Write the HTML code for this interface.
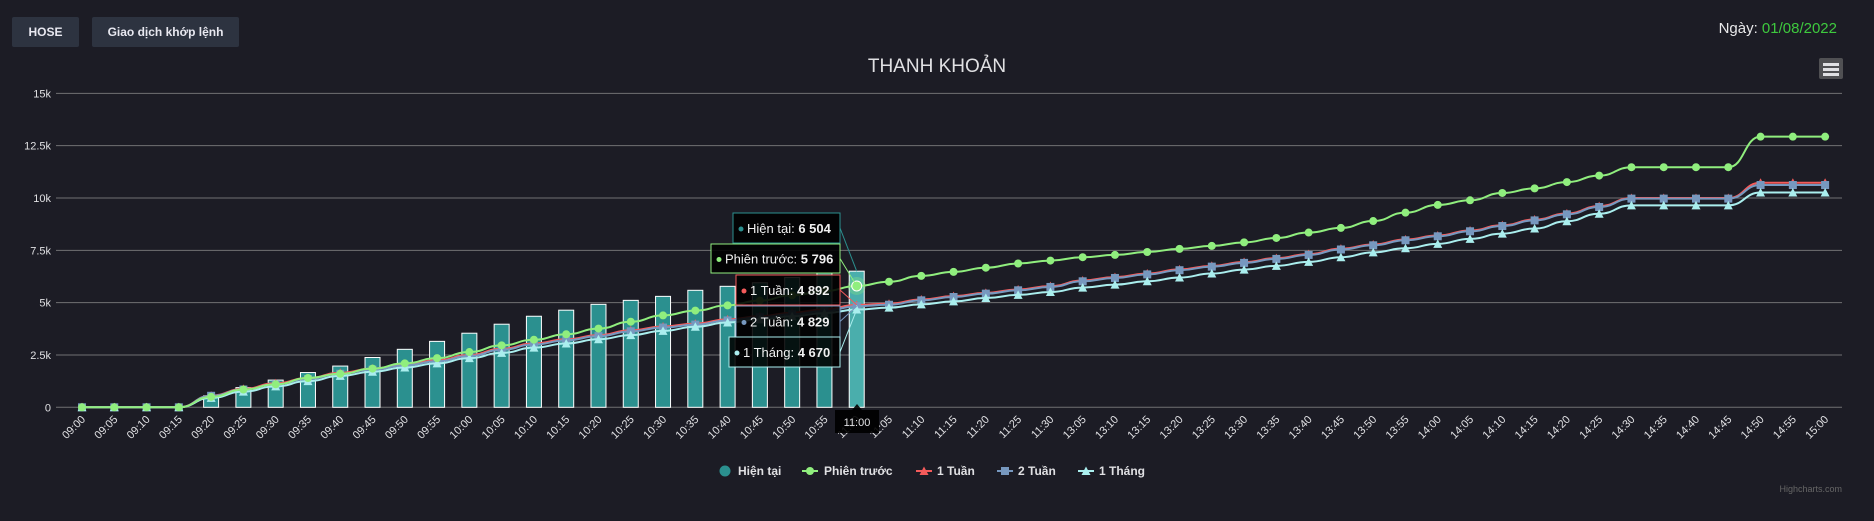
<!DOCTYPE html>
<html><head><meta charset="utf-8"><style>
body{margin:0;width:1874px;height:521px;background:#1c1c25;overflow:hidden;font-family:"Liberation Sans","Noto Sans CJK SC",sans-serif;position:relative}
.btn{position:absolute;top:17px;height:30px;background:#2d3340;border-radius:2px;color:#e8e8f0;font-weight:bold;font-size:12px;line-height:30px;text-align:center}
#date{position:absolute;right:37px;top:20px;font-size:15px;color:#e8e8ea}
#date span{color:#3ec93e}
svg{position:absolute;left:0;top:0}
</style></head><body>
<div class="btn" style="left:12px;width:67px">HOSE</div>
<div class="btn" style="left:92px;width:147px">Giao dịch khớp lệnh</div>
<div id="date">Ngày: <span>01/08/2022</span></div>
<svg id="chart" width="1874" height="521"></svg>
<script>
const categories=["09:00","09:05","09:10","09:15","09:20","09:25","09:30","09:35","09:40","09:45","09:50","09:55","10:00","10:05","10:10","10:15","10:20","10:25","10:30","10:35","10:40","10:45","10:50","10:55","11:00","11:05","11:10","11:15","11:20","11:25","11:30","13:05","13:10","13:15","13:20","13:25","13:30","13:35","13:40","13:45","13:50","13:55","14:00","14:05","14:10","14:15","14:20","14:25","14:30","14:35","14:40","14:45","14:50","14:55","15:00"];
const hienTai=[0,0,0,0,550,940,1300,1660,1970,2380,2770,3150,3540,3970,4350,4640,4920,5110,5300,5590,5780,5950,6200,6420,6504];
const phienTruoc=[0,0,0,0,500,850,1100,1400,1600,1850,2100,2350,2640,2960,3230,3490,3760,4090,4390,4620,4870,5100,5350,5550,5796,6000,6280,6470,6670,6870,7010,7170,7280,7420,7570,7710,7880,8090,8350,8570,8900,9300,9670,9890,10240,10460,10760,11070,11470,11470,11470,11470,12930,12930,12930];
const tuan1=[0,0,0,0,560,880,1150,1400,1650,1850,2050,2250,2500,2800,3050,3250,3450,3680,3860,4000,4200,4350,4520,4680,4892,4950,5150,5310,5470,5630,5790,6060,6220,6390,6590,6760,6940,7130,7320,7580,7780,8020,8210,8450,8700,8970,9260,9610,10000,10000,10000,10000,10730,10730,10730];
const tuan2=[0,0,0,0,550,850,1100,1350,1600,1800,2000,2200,2450,2750,3000,3200,3400,3630,3810,3950,4150,4300,4450,4600,4829,4900,5110,5270,5430,5590,5750,6020,6180,6350,6550,6720,6900,7090,7280,7540,7740,7980,8170,8410,8660,8930,9220,9570,9970,9970,9970,9970,10620,10620,10620];
const thang1=[0,0,0,0,450,750,1000,1250,1500,1700,1900,2100,2350,2600,2850,3050,3250,3450,3650,3850,4050,4200,4350,4500,4670,4760,4920,5060,5220,5370,5510,5720,5860,6020,6200,6390,6580,6760,6950,7170,7400,7600,7810,8050,8300,8540,8890,9250,9650,9650,9650,9650,10260,10260,10260];
const yTicks=[0,2500,5000,7500,10000,12500,15000];
const yTickLabels=["0","2.5k","5k","7.5k","10k","12.5k","15k"];

const NS="http://www.w3.org/2000/svg";
const svg=document.getElementById('chart');
const X0=82,DX=32.28,Y0=407.3,KY=20.93/1000;
const xs=i=>X0+i*DX, ys=v=>Y0-v*KY;
function el(t,a,p){const e=document.createElementNS(NS,t);for(const k in a)e.setAttribute(k,a[k]);(p||svg).appendChild(e);return e;}
function txt(s,a,p){const e=el('text',a,p);e.textContent=s;return e;}

const title=txt("THANH KHOẢN",{x:937,y:72,'text-anchor':'middle','font-size':19,fill:'#e0e0e3'});



yTicks.forEach((v,i)=>{
  const g=el('line',{x1:56,x2:1842,y1:ys(v),y2:ys(v),stroke:'#707073','stroke-width':1});
  
  
  const t=txt(yTickLabels[i],{x:51,y:ys(v)+4,'text-anchor':'end','font-size':11,fill:'#e0e0e3'});
  
  
});

categories.forEach((c,i)=>{
  const x=xs(i);
  const t=txt(c,{x:x+4,y:420,'text-anchor':'end','font-size':11,fill:'#e0e0e3',transform:`rotate(-45 ${x+4} 420)`});
  
  
});

hienTai.forEach((v,i)=>{
  const h=v*KY;
  const r=el('rect',{x:xs(i)-7.5,y:Y0-h,width:15,height:h,fill:i==24?'#4aaeac':'#2b908f',stroke:'#ffffff','stroke-width':1});
  
  
});

function smooth(vals){
  let d="";const p=vals.map((v,i)=>[xs(i),ys(v)]);
  p.forEach((q,i)=>{
    if(i==0){d+=`M${q[0]},${q[1]}`;return;}
    const a=p[i-1],cx=(a[0]+q[0])/2;
    d+=` C${cx},${a[1]} ${cx},${q[1]} ${q[0]},${q[1]}`;
  });return d;
}
function series(vals,color,marker,name){
  const g=el('g',{});
  
  
  el('path',{d:smooth(vals),fill:'none',stroke:color,'stroke-width':2},g);
  vals.forEach((v,i)=>{
    const x=xs(i),y=ys(v);let m;
    if(marker=='circle')m=el('circle',{cx:x,cy:y,r:4,fill:color},g);
    else if(marker=='square')m=el('rect',{x:x-4,y:y-4,width:8,height:8,fill:color},g);
    else if(marker=='tri')m=el('path',{d:`M${x},${y-4.5}L${x+4.5},${y+4}L${x-4.5},${y+4}Z`,fill:color},g);
    else m=el('path',{d:`M${x},${y-4.5}L${x+4},${y+3}L${x-4},${y+3}Z`,fill:color},g);
    
    
  });
}
series(tuan1,'#f45b5b','tri2','series-1-tuan');
series(tuan2,'#7798bf','square','series-2-tuan');
series(thang1,'#aaeeee','tri','series-1-thang');
series(phienTruoc,'#90ee7e','circle','series-phien-truoc');
// hover halo
el('circle',{cx:xs(24),cy:ys(phienTruoc[24]),r:9,fill:'#90ee7e','fill-opacity':0.3});
el('circle',{cx:xs(24),cy:ys(phienTruoc[24]),r:5,fill:'#90ee7e',stroke:'#fff','stroke-width':1});

// tooltips
const tips=[
 {l:'Hiện tại',v:hienTai[24],c:'#2b908f',x:733,y:213,h:30,val:hienTai[24]},
 {l:'Phiên trước',v:phienTruoc[24],c:'#90ee7e',x:711,y:244,h:29,val:phienTruoc[24]},
 {l:'1 Tuần',v:tuan1[24],c:'#f45b5b',x:736,y:275,h:30,val:tuan1[24]},
 {l:'2 Tuần',v:tuan2[24],c:'#7798bf',x:736,y:306,h:31,val:tuan2[24]},
 {l:'1 Tháng',v:thang1[24],c:'#aaeeee',x:729,y:337,h:30,val:thang1[24]}];
const fmt=v=>String(Math.round(v)).replace(/\B(?=(\d{3})+(?!\d))/g,' ');
tips.forEach(t=>{
  const g=el('g',{});
  
  
  el('line',{x1:840,y1:t.y+t.h/2,x2:xs(24),y2:ys(t.v),stroke:t.c,'stroke-width':1},g);
  el('rect',{x:t.x,y:t.y,width:840-t.x,height:t.h,fill:'#000','fill-opacity':0.88,stroke:t.c,'stroke-width':1},g);
  el('circle',{cx:t.x+8,cy:t.y+t.h/2+1,r:2.5,fill:t.c},g);
  const tx=txt('',{x:t.x+14,y:t.y+t.h/2+5,'font-size':13,fill:'#f0f0f0'},g);
  tx.textContent=t.l+': ';
  const b=el('tspan',{'font-weight':'bold'},tx);b.textContent=fmt(t.val);
});
// crosshair label
const ch=el('g',{});


el('path',{d:`M835,410 H852 L857,404 L862,410 H879 V433 H835 Z`,fill:'#000','fill-opacity':0.9},ch);
txt('11:00',{x:857,y:426,'text-anchor':'middle','font-size':11,fill:'#e0e0e3'},ch);

// legend
const leg=[['Hiện tại','#2b908f','c',725,738],['Phiên trước','#90ee7e','line-c',810,824],['1 Tuần','#f45b5b','line-t',924,937],['2 Tuần','#7798bf','line-s',1005,1018],['1 Tháng','#aaeeee','line-t',1086,1099]];
leg.forEach(l=>{
  const g=el('g',{});
  
  
  const y=471;
  if(l[2]=='c')el('circle',{cx:l[3],cy:y,r:5.5,fill:l[1]},g);
  else{
    el('line',{x1:l[3]-8,x2:l[3]+8,y1:y,y2:y,stroke:l[1],'stroke-width':2},g);
    if(l[2]=='line-c')el('circle',{cx:l[3],cy:y,r:4,fill:l[1]},g);
    if(l[2]=='line-s')el('rect',{x:l[3]-4,y:y-4,width:8,height:8,fill:l[1]},g);
    if(l[2]=='line-t')el('path',{d:`M${l[3]},${y-4.5}L${l[3]+4.5},${y+4}L${l[3]-4.5},${y+4}Z`,fill:l[1]},g);
  }
  txt(l[0],{x:l[4],y:y+4,'font-size':12,'font-weight':'bold',fill:'#e0e0e3'},g);
});
// menu button
const mb=el('g',{});


el('rect',{x:1819,y:58,width:24,height:21,rx:2,fill:'#505053'},mb);
[63,68,73].forEach(y=>el('rect',{x:1823,y:y,width:16,height:3,fill:'#e0e0e3'},mb));
const cr=txt('Highcharts.com',{x:1842,y:492,'text-anchor':'end','font-size':9,fill:'#666'});


</script>
</body></html>
